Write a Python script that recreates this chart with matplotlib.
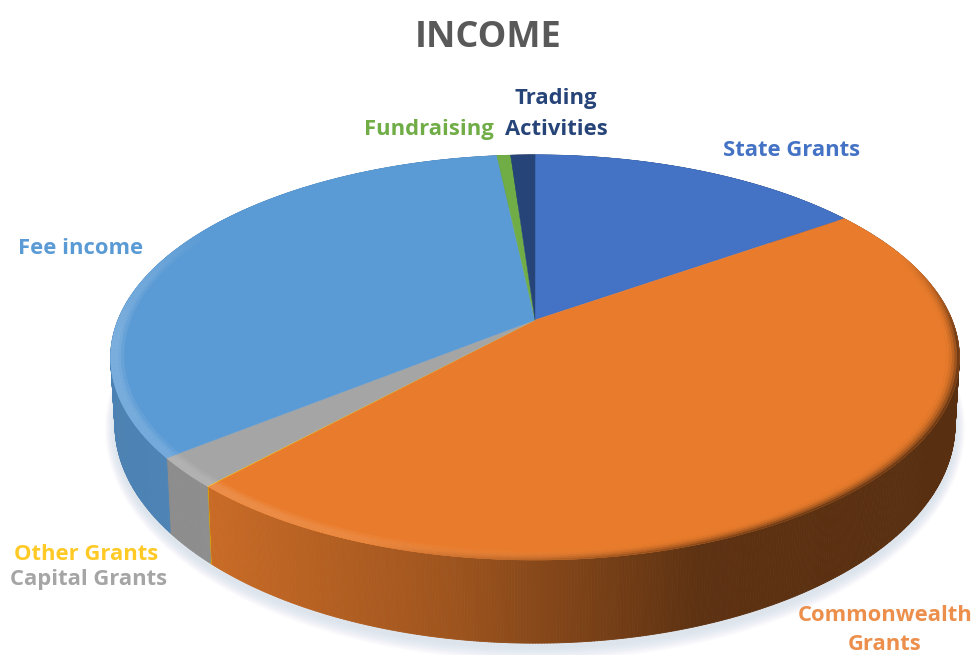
"""Income breakdown drawn as a tilted 3D pie with plain matplotlib polygons."""

import numpy as np
import matplotlib

matplotlib.use("Agg")
import matplotlib.pyplot as plt
from matplotlib.collections import PolyCollection
from matplotlib.colors import to_rgb

plt.rcParams["font.family"] = ["Open Sans", "DejaVu Sans"]

# share of income, percent, clockwise from 12 o'clock
sources = ["State Grants", "Commonwealth Grants", "Other Grants", "Capital Grants",
           "Fee income", "Fundraising", "Trading Activities"]
shares = [15.3, 46.55, 0.03, 2.4, 34.0, 0.62, 1.1]
colors = ["#4472c4", "#e97c2c", "#ffc000", "#a5a5a5", "#5b9bd5", "#70ad47", "#264478"]

# projection of the pie disc, in pixels
CX, CY = 535.0, 320.0
RX, RY = 417.0, 195.6
PERSP = 0.185
RIM_CX, RIM_CY = 534.0, 358.0
BASE_CY = 425.0
BASE_SX, BASE_SY = 0.99, 1.08
BEVEL_RADII = [1.0, 0.994, 0.988, 0.982, 0.976, 0.97]


def project(theta, r=1.0):
    u = r * np.sin(theta)
    v = r * np.cos(theta)
    w = 1 + PERSP * v
    return CX + RX * u / w, CY - RY * v / w


def project_base(theta):
    x, y = project(theta)
    return RIM_CX + (x - RIM_CX) * BASE_SX, BASE_CY + (y - RIM_CY) * BASE_SY


def mix(a, b, t):
    return tuple((1 - t) * p + t * q for p, q in zip(a, b))


def side_shade(x):
    return np.interp(x, [110, 210, 450, 700, 960], [0.84, 0.86, 0.68, 0.40, 0.38])


fig = plt.figure(figsize=(9.76, 6.55), dpi=100)
ax = fig.add_axes([0, 0, 1, 1])
ax.set_xlim(0, 976)
ax.set_ylim(655, 0)
ax.axis("off")

# soft drop shadow under the disc
whole = np.linspace(0, 2 * np.pi, 360)
bx, by = project_base(whole)
for i in range(20, 0, -1):
    sx = RIM_CX + (bx - RIM_CX) * (1 + i * 0.0012)
    sy = BASE_CY + 4 + (by - BASE_CY) * (1 + i * 0.0032)
    ax.fill(sx, sy, color="#a6b2c4", alpha=0.016, lw=0, zorder=1)

edges = np.radians(np.concatenate([[0], np.cumsum(shares)]) * 3.6)

side_polys, side_cols = [], []
face_polys, face_cols = [], []
rim_polys, rim_cols = [], []
for start, end, color in zip(edges[:-1], edges[1:], colors):
    rgb = to_rgb(color)
    steps = max(2, int(np.degrees(end - start) * 3))
    angles = np.linspace(start, end, steps + 1)

    tx, ty = project(angles)
    face_polys.append(np.vstack([[CX, CY], np.column_stack([tx, ty])]))
    face_cols.append(rgb)

    lx, ly = project_base(angles)
    for a, b in zip(range(steps), range(1, steps + 1)):
        side_polys.append([(tx[a], ty[a]), (tx[b], ty[b]), (lx[b], ly[b]), (lx[a], ly[a])])
        side_cols.append(tuple(c * side_shade((tx[a] + tx[b]) / 2) for c in rgb))

    # bevel along the edge: lit on the left, falling into shadow on the right
    for band, (outer, inner) in enumerate(zip(BEVEL_RADII[:-1], BEVEL_RADII[1:])):
        fade = 1 - band / (len(BEVEL_RADII) - 1)
        ox, oy = project(angles, outer)
        ix, iy = project(angles, inner)
        for a, b in zip(range(0, steps, 3), range(3, steps + 3, 3)):
            b = min(b, steps)
            mid = np.degrees((angles[a] + angles[b]) / 2)
            lit = np.interp(mid, [165, 215, 265, 285, 300], [0, 0.13, 0.2, 0.12, 0.0])
            dark = np.interp(mid, [70, 95, 150, 200], [0, 0.85, 0.85, 0]) * fade * fade
            shade = mix(mix(rgb, (1, 1, 1), lit * min(1, 2 * fade)), tuple(c * 0.4 for c in rgb), dark)
            quad = list(zip(ox[a:b + 1], oy[a:b + 1])) + list(zip(ix[a:b + 1], iy[a:b + 1]))[::-1]
            rim_polys.append(quad)
            rim_cols.append(shade)

ax.add_collection(PolyCollection(side_polys, facecolors=side_cols, edgecolors=side_cols,
                                 linewidths=0.6, zorder=2))
ax.add_collection(PolyCollection(face_polys, facecolors=face_cols, edgecolors=face_cols,
                                 linewidths=0.3, zorder=3))
ax.add_collection(PolyCollection(rim_polys, facecolors=rim_cols, edgecolors=rim_cols,
                                 linewidths=0.4, zorder=4))

ax.text(488, 38, "INCOME", ha="center", va="center", fontsize=26, fontweight="bold",
        color="#595959")

label_style = dict(ha="center", va="center", fontsize=15.8, fontweight="bold", linespacing=1.6)
ax.text(792, 150, "State Grants", color=colors[0], **label_style)
ax.text(885, 630, "Commonwealth\nGrants", color=colors[1], alpha=0.85,
        **{**label_style, "linespacing": 1.45})
ax.text(86, 554, "Other Grants", color=colors[2], alpha=0.85, **label_style)
ax.text(89, 579, "Capital Grants", color=colors[3], **label_style)
ax.text(81, 248, "Fee income", color=colors[4], **label_style)
ax.text(429, 130, "Fundraising", color=colors[5], **label_style)
ax.text(556, 114, "Trading\nActivities", color=colors[6], **label_style)

fig.savefig("out.png", dpi=100)
